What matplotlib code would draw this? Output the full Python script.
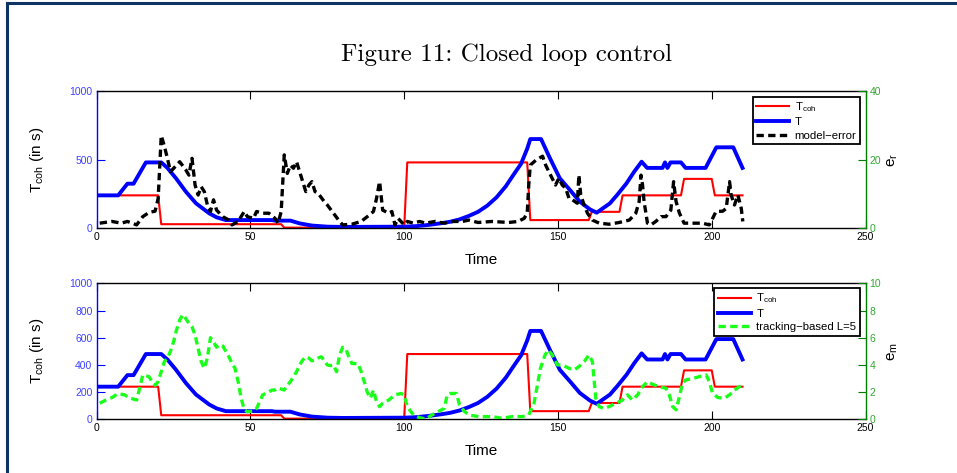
import matplotlib
matplotlib.use('Agg')
import matplotlib.pyplot as plt
from matplotlib.lines import Line2D

# ---------------- data ----------------
tcoh_t = [1, 20, 21, 60, 61, 100, 101, 140, 141, 160, 161, 170, 171, 190, 191, 200, 201, 210]
tcoh_v = [240, 240, 30, 30, 5, 5, 480, 480, 60, 60, 120, 120, 240, 240, 360, 360, 240, 240]

T_t = [1, 7, 10, 12, 16, 21, 23, 25.8, 29, 32.3, 36.6, 39, 42, 57, 58, 63, 66, 70, 75, 80,
       100, 104, 108, 112, 115, 118, 121, 124, 127, 130, 133, 136, 138, 140, 141, 144.5,
       147.4, 150.6, 153.9, 157.1, 160.4, 162.6, 166.9, 169.5, 172.3, 174.8, 177.2, 179, 184,
       184.8, 185.6, 186.6, 190, 191.5, 198, 201.5, 207, 210]
T_v = [240, 240, 325, 325, 480, 480, 440, 364, 267, 182, 109, 80, 60, 60, 56, 56, 36, 20, 12, 10,
       12, 16, 25, 37, 48, 65, 90, 120, 165, 225, 305, 405, 470, 580, 650, 650,
       510, 364, 279, 194, 138, 114, 182, 250, 328, 413, 485, 440, 440,
       480, 440, 480, 480, 440, 440, 590, 590, 440]

er_t = [1, 5, 8, 10, 13, 15, 17, 19, 20, 21, 22, 23, 24, 26, 27, 29, 30, 31, 32, 33, 34, 35,
        36, 37, 38, 39, 41, 43, 44, 46, 48, 49, 51, 52, 54, 56, 58, 59, 60, 61, 62, 63, 64,
        65, 66, 67, 68, 69, 70, 71, 72, 74, 75, 77, 79, 80, 83, 86, 88, 90, 91, 92, 93, 95,
        96, 97, 98, 100, 101, 103, 105, 107, 110, 113, 116, 119, 121, 124, 128.6, 134, 137,
        139, 140, 140.5, 141, 143, 145, 146, 147.6, 149.2, 150.3, 151.4, 152.5, 153.6, 154.7,
        156.3, 156.8, 157.4, 158.5, 159.6, 161.2, 163.4, 166.6, 169.9, 173.2, 175.3, 176.4,
        177, 177.5, 178, 179.1, 180.2, 181.8, 183.5, 185.1, 186.7, 187.6, 188.4, 189.5, 191,
        193.8, 197, 199.2, 200.3, 201.4, 203.6, 204.7, 205.8, 206.3, 207.4, 208.5, 209.6, 210.1]
er_v = [1.5, 2, 1.5, 2, 1, 3.4, 4.6, 5, 8.7, 27, 24, 20.4, 16.5, 18.4, 19.4, 17, 15.5, 20.4,
        12.6, 9.7, 12.1, 10.7, 6.8, 4.9, 8.3, 5.3, 3.4, 2.4, 1, 2, 4.9, 3.4, 2.9, 4.9, 4.4,
        4.4, 2.9, 1.5, 4.9, 21.4, 16, 18.4, 17.5, 19.4, 16.5, 13.6, 10.7, 12.6, 13.6, 10.7,
        10.2, 7.8, 6.8, 4.4, 2, 1, 1.2, 2, 3.4, 4.9, 8.7, 13.6, 5.3, 4.4, 4.9, 1, 2.9, 1, 2,
        1.5, 2, 1.5, 2, 1.5, 2, 2, 2.4, 1.7, 2, 1.7, 2, 2.9, 4.4, 12.6, 18.4, 20, 21, 18.4,
        15.5, 12.6, 14.6, 12.6, 11.7, 8.7, 8.3, 7.3, 15.5, 9.7, 6.8, 4.4, 2.4, 1.5, 1.2, 1.7,
        2.4, 4.4, 7.8, 15.5, 12.6, 7.8, 1.5, 1, 2, 3.4, 3.4, 5.3, 13.6, 7.8, 4.4, 1.5, 1.5,
        1.5, 1, 2.9, 4.9, 5, 5.8, 13.6, 9.7, 6.8, 9.7, 5.8, 2]

em_t = [1, 3, 5, 7, 9, 11, 13, 14, 15, 17, 18, 19, 20, 21, 22, 23, 24, 25, 26, 27, 28, 29,
        30, 31, 32, 33, 34, 35, 36, 37, 38, 39, 40, 41, 42, 43, 44, 45, 46, 47, 48, 49, 51,
        52, 53, 54, 55, 57, 58, 59, 61, 62, 63, 64, 65, 66, 67, 68, 69, 70, 71, 72, 73, 74,
        75, 76, 77, 78, 79, 80, 81, 82, 83, 84, 85, 86, 87, 88, 89, 90, 91, 92, 93, 95, 97,
        99, 100, 101, 103, 105, 107, 109, 111, 113, 114, 115, 117, 118, 119.5, 121, 124.2,
        128.6, 131.8, 135, 138.4, 140.5, 142.2, 143.3, 144.3, 145.8, 146.8, 148.2, 149.8,
        151.4, 153.6, 155.2, 156.8, 158.5, 160.1, 161.2, 161.7, 162.3, 163.4, 165, 166.6,
        168.8, 171, 172.6, 174.2, 175.9, 177.5, 179.1, 180.8, 182.9, 185.1, 186.2, 187.3,
        188.4, 189.5, 190.5, 191.6, 193.8, 196, 198.2, 199.2, 200.3, 202, 204.1, 205.8,
        207.4, 209, 210.1]
em_v = [1.18, 1.42, 1.6, 1.9, 1.8, 1.55, 1.42, 2.3, 3.26, 3.14, 2.77, 2.5, 2.77, 3.5, 4.24,
        4.5, 5, 5.7, 6.6, 7.3, 7.7, 7.4, 7.06, 6.8, 6.2, 5.2, 4.24, 3.75, 4.5, 6, 5.7, 5.3,
        5.5, 5.4, 5, 4.6, 4.1, 3.75, 2.77, 1.55, 0.7, 0.56, 0.6, 0.8, 1.3, 1.8, 1.9, 2.15,
        2.15, 2.3, 2.15, 2.5, 2.77, 3.14, 3.5, 4, 4.36, 4.6, 4.5, 4.3, 4.36, 4.5, 4.6, 4.36,
        4, 3.95, 4, 3.5, 4.73, 5.3, 5.2, 4.6, 4.1, 4.1, 4.1, 3.5, 2.77, 2, 1.55, 2.15, 1.3,
        0.93, 1.18, 1.42, 1.8, 1.9, 1.8, 0.93, 0.32, 0.12, 0.02, 0.32, 0.56, 0.8, 1.8, 1.9,
        1.9, 1.05, 0.6, 0.32, 0.2, 0.2, 0.07, 0.2, 0.2, 0.32, 1.18, 2.5, 3.75, 4.73, 5.1,
        4.73, 4, 4, 3.75, 3.63, 3.87, 4.24, 4.73, 4.24, 3.0, 1.55, 0.93, 0.8, 0.93, 1.18,
        1.42, 1.8, 1.42, 1.8, 2.4, 2.77, 2.57, 2.4, 2.28, 1.8, 0.93, 0.7, 1.67, 2.65, 2.9,
        3.0, 3.14, 3.26, 2.77, 1.9, 1.6, 1.55, 1.8, 2.15, 2.4, 2.5]

x_ticks = [0, 50, 100, 150, 200, 250]
top_left_ticks = [0, 500, 1000]
top_right_ticks = [0, 20, 40]
bot_left_ticks = [0, 200, 400, 600, 800, 1000]
bot_right_ticks = [0, 2, 4, 6, 8, 10]

# ---------------- style ----------------
plt.rcParams['font.family'] = ['Liberation Sans', 'DejaVu Sans']
plt.rcParams['mathtext.fontset'] = 'custom'
plt.rcParams['mathtext.rm'] = 'Liberation Sans'
plt.rcParams['mathtext.it'] = 'Liberation Sans:italic'

LEFT_C = (0, 0, 1)
RIGHT_C = (0, 0.5, 0)
RIGHT_TXT = (0.2, 0.65, 0.2)
LEFT_TXT = (0.25, 0.25, 1.0)

fig = plt.figure(figsize=(9.57, 4.73), dpi=100)

# page frame
navy = '#0d3463'
fig.add_artist(Line2D([7.5 / 957, 1.0], [1 - 3.5 / 473, 1 - 3.5 / 473],
                      transform=fig.transFigure, color=navy, lw=2.2))
fig.add_artist(Line2D([7.5 / 957, 7.5 / 957], [0.0, 1 - 3.5 / 473],
                      transform=fig.transFigure, color=navy, lw=2.2))

fig.text(0.529, 0.884, 'Figure 11: Closed loop control', ha='center', va='center',
         family=['cmr10', 'DejaVu Serif'], fontsize=18)


def make_panel(rect, lticks, rticks, rlim, err_t, err_v, err_color, err_label, rlabel, leg_top):
    ax1 = fig.add_axes(rect)
    ax2 = ax1.twinx()
    l1, = ax1.plot(tcoh_t, tcoh_v, color='red', lw=1.5, label=r'T$_{\mathrm{coh}}$')
    l2, = ax1.plot(T_t, T_v, color='blue', lw=2.8, label='T')
    l3, = ax2.plot(err_t, err_v, color=err_color, lw=2.4, dashes=(2.2, 1.3), label=err_label)
    ax1.set_xlim(0, 250)
    ax1.set_ylim(0, 1000)
    ax2.set_ylim(*rlim)
    ax1.set_xticks(x_ticks)
    ax1.set_yticks(lticks)
    ax2.set_yticks(rticks)
    ax1.tick_params(axis='x', which='both', direction='in', top=True, bottom=True,
                    length=5.5, width=0.8, labelsize=7.5, pad=3, colors='black')
    ax1.tick_params(axis='y', direction='in', left=True, right=False, length=5.5,
                    width=0.8, labelsize=7.5, pad=3, color=LEFT_C, labelcolor=LEFT_TXT)
    ax2.tick_params(axis='y', direction='in', left=False, right=True, length=5.5,
                    width=0.8, labelsize=7.5, pad=3, color=RIGHT_C, labelcolor=RIGHT_TXT)
    for s in ['top', 'bottom']:
        ax1.spines[s].set_color('black')
        ax1.spines[s].set_linewidth(1.0)
        ax2.spines[s].set_visible(False)
    ax1.spines['left'].set_color(LEFT_C)
    ax1.spines['left'].set_linewidth(1.0)
    ax1.spines['right'].set_visible(False)
    ax2.spines['left'].set_visible(False)
    ax2.spines['right'].set_color(RIGHT_C)
    ax2.spines['right'].set_linewidth(1.0)
    ax1.set_xlabel('Time', fontsize=11)
    ax1.xaxis.set_label_coords(0.5, -0.18)
    ax1.set_ylabel(r'T$_{\mathrm{coh}}$ (in s)', fontsize=11)
    ax1.yaxis.set_label_coords(-0.066, 0.5)
    ax2.set_ylabel(rlabel, fontsize=11, rotation=90)
    ax2.yaxis.set_label_coords(1.026, 0.5)
    leg = ax2.legend(handles=[l1, l2, l3], loc='upper right', bbox_to_anchor=(0.9927, leg_top),
                     borderaxespad=0, fontsize=8.2, fancybox=False, framealpha=1,
                     edgecolor='black', handlelength=2.9, labelspacing=0.3,
                     borderpad=0.3, handletextpad=0.5)
    leg.get_frame().set_linewidth(1.3)
    return ax1, ax2


make_panel([0.1010, 0.5173, 0.8034, 0.2903], top_left_ticks, top_right_ticks, (0, 40),
           er_t, er_v, 'black', 'model\u2212error', r'e$_{\mathrm{r}}$', 0.958)
make_panel([0.1010, 0.1135, 0.8034, 0.2875], bot_left_ticks, bot_right_ticks, (0, 10),
           em_t, em_v, (0.1, 1.0, 0.1), 'tracking\u2212based L=5', r'e$_{\mathrm{m}}$', 0.965)

fig.savefig('out.png', dpi=100)
